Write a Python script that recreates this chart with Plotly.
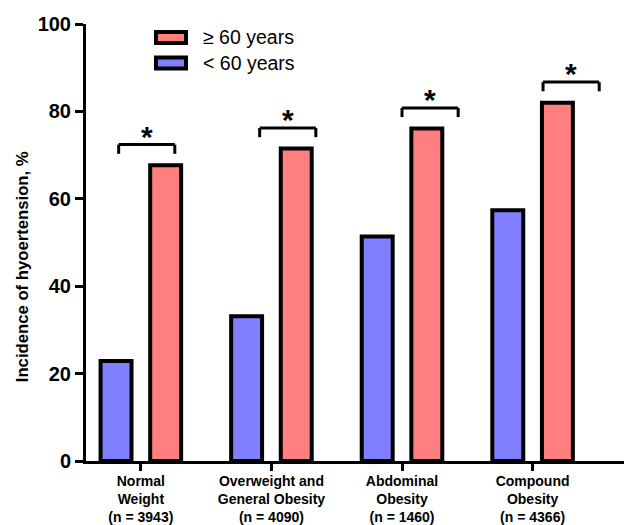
import plotly.graph_objects as go

categories = ["Normal<br>Weight<br>(n = 3943)",
              "Overweight and<br>General Obesity<br>(n = 4090)",
              "Abdominal<br>Obesity<br>(n = 1460)",
              "Compound<br>Obesity<br>(n = 4366)"]
under60 = [22.9, 33.1, 51.4, 57.4]
over60 = [67.7, 71.5, 76.1, 82.0]
y_ticks = [0, 20, 40, 60, 80, 100]
sig_marks = ["*", "*", "*", "*"]
y_title = "Incidence of hyoertension, %"

RED = "#FF7F7F"
BLUE = "#8080FF"
FONT = "Arial, Liberation Sans, sans-serif"

idx = list(range(len(categories)))
W = 0.237
fig = go.Figure()
fig.add_trace(go.Bar(x=idx, y=under60, width=W, offset=-0.19 - W / 2,
                     marker=dict(color=BLUE, line=dict(color="black", width=4)),
                     name="< 60 years", showlegend=False, hoverinfo="skip"))
fig.add_trace(go.Bar(x=idx, y=over60, width=W, offset=0.19 - W / 2,
                     marker=dict(color=RED, line=dict(color="black", width=4)),
                     name="≥ 60 years", showlegend=False, hoverinfo="skip"))

# significance brackets
left_off = [-0.17, -0.09, 0.0, 0.08]
for i, v in enumerate(over60):
    x0 = i + left_off[i]
    x1 = x0 + 0.43
    ytop = v + 4.7
    yleg = ytop - 2.1
    for (a, b, c, d) in [(x0, ytop, x1, ytop), (x0, ytop, x0, yleg), (x1, ytop, x1, yleg)]:
        fig.add_shape(type="line", xref="x", yref="y", x0=a, y0=b, x1=c, y1=d,
                      line=dict(color="black", width=3))
    fig.add_annotation(x=(x0 + x1) / 2, y=ytop - 2.3, xref="x", yref="y",
                       text="<b>" + sig_marks[i] + "</b>", showarrow=False, yanchor="bottom",
                       font=dict(family=FONT, size=30, color="black"))

# manual legend
L, T = 86, 23.5
PW, PH = 538, 437.5
def px(x):
    return (x - L) / PW
def py(y):
    return (T + PH - y) / PH
for (label, col, y0, y1) in [("≥ 60 years", RED, 31.5, 42.5), ("< 60 years", BLUE, 57, 68)]:
    fig.add_shape(type="rect", xref="paper", yref="paper", x0=px(156), x1=px(186),
                  y0=py(y1), y1=py(y0), fillcolor=col, line=dict(color="black", width=4))
    fig.add_annotation(xref="paper", yref="paper", x=px(201), y=py((y0 + y1) / 2),
                       text=label, showarrow=False, xanchor="left", yanchor="middle",
                       font=dict(family=FONT, size=19.5, color="black"))

# y-axis title
fig.add_annotation(xref="paper", yref="paper", x=px(22), y=py(267), text="<b>" + y_title + "</b>",
                   textangle=-90, showarrow=False, xanchor="center", yanchor="middle",
                   font=dict(family=FONT, size=16.7, color="black"))

fig.update_layout(
    width=624, height=525,
    margin=dict(l=L, r=0, t=T, b=525 - T - PH, autoexpand=False),
    plot_bgcolor="white", paper_bgcolor="white",
    barmode="overlay", hovermode=False,
    font=dict(family=FONT, color="black"),
    xaxis=dict(range=[-0.42, 3.7], tickvals=idx, ticktext=categories,
               automargin=False,
               showline=True, linecolor="black", linewidth=3,
               ticks="outside", ticklen=7, tickwidth=3, tickcolor="black",
               showgrid=False, zeroline=False, ticklabelstandoff=-2,
               tickfont=dict(family=FONT, size=14, color="black", weight="bold")),
    yaxis=dict(range=[0, 100], tickvals=y_ticks, automargin=False,
               showline=True, linecolor="black", linewidth=3,
               ticks="outside", ticklen=8, tickwidth=3, tickcolor="black",
               showgrid=False, zeroline=False,
               tickfont=dict(family=FONT, size=20, color="black", weight="bold")),
)

fig.write_html("out.html", config={"displayModeBar": False},
               post_script="document.body.style.margin='0';")
